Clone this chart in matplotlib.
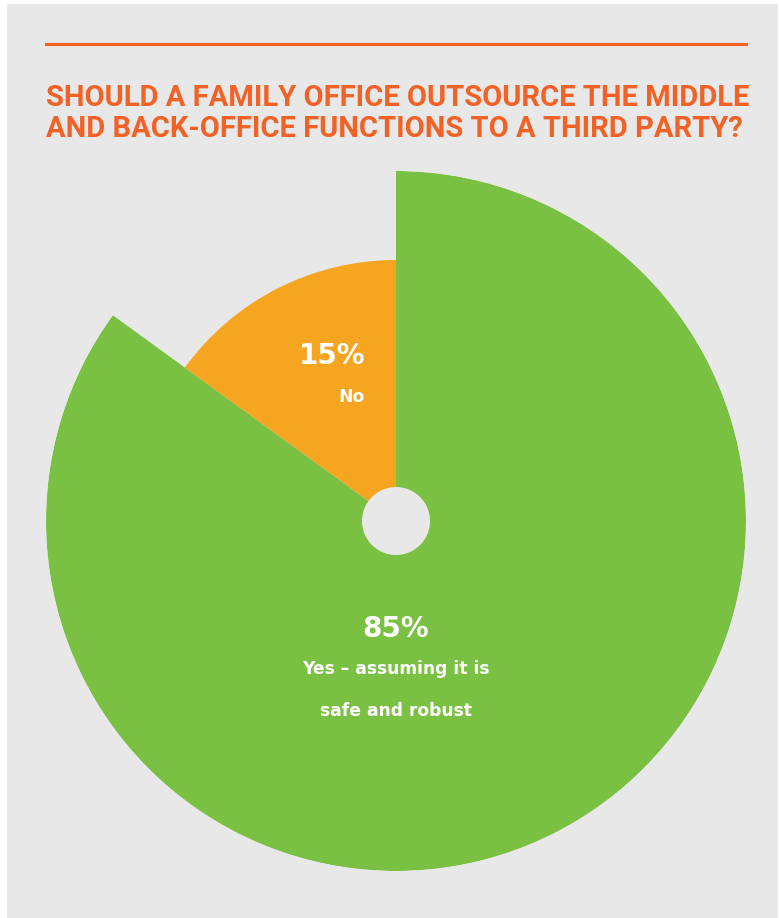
import numpy as np
import matplotlib
matplotlib.use("Agg")
import matplotlib.pyplot as plt

# data
labels = ["Yes \u2013 assuming it is\nsafe and robust", "No"]
shares = [85, 15]
radii = [350, 261]          # relative wedge length as drawn
pct_labels = ["85%", "15%"]

title_lines = ["SHOULD A FAMILY OFFICE OUTSOURCE THE MIDDLE",
               "AND BACK-OFFICE FUNCTIONS TO A THIRD PARTY?"]

bg = "#e8e8e8"
accent = "#f26125"
colors = ["#7ac143", "#f6a520"]

W, H = 779, 918
fig = plt.figure(figsize=(W / 100, H / 100), dpi=100)
fig.patch.set_facecolor("white")

# gray panel
back = fig.add_axes([7 / W, 0, 771 / W, 914 / H])
back.set_facecolor(bg)
back.set_xticks([])
back.set_yticks([])
for s in back.spines.values():
    s.set_visible(False)

# orange rule
fig.add_artist(plt.Line2D([46 / W, 746 / W], [1 - 44 / H, 1 - 44 / H],
                          color=accent, linewidth=2.2))

# title, sized so the first line spans the rule width
title_font = ["Roboto", "DejaVu Sans"]
t1 = fig.text(46 / W, 1 - 106 / H, title_lines[0], ha="left", va="baseline",
              fontsize=20, fontweight="bold", color=accent, family=title_font)
renderer = fig.canvas.get_renderer()
w1 = t1.get_window_extent(renderer).width
fs = 20 * 700 / w1
t1.set_fontsize(fs)
fig.text(46 / W, 1 - 137 / H, title_lines[1], ha="left", va="baseline",
         fontsize=fs, fontweight="bold", color=accent, family=title_font)

# rose chart
cx, cy, R = 396, 521, 350
ax = fig.add_axes([(cx - R) / W, (H - cy - R) / H, 2 * R / W, 2 * R / H],
                  projection="polar")
ax.set_theta_zero_location("N")
ax.set_theta_direction(-1)
ax.set_facecolor("none")
ax.set_ylim(0, R)
ax.axis("off")

hole = 34
start = 0.0
for sh, r, c in zip(shares, radii, colors):
    w = sh / 100 * 2 * np.pi
    ax.bar(start, r - hole, width=w, bottom=hole, align="edge",
           color=c, edgecolor="none", linewidth=0)
    start += w

lab_font = ["DejaVu Sans"]

# 85% label
fig.text(cx / W, 1 - 637 / H, pct_labels[0], ha="center", va="baseline",
         fontsize=20, fontweight="bold", color="white", family=lab_font)
fig.text(cx / W, 1 - 674 / H, labels[0].split("\n")[0], ha="center", va="baseline",
         fontsize=12.3, fontweight="bold", color="white", family=lab_font)
fig.text(cx / W, 1 - 716 / H, labels[0].split("\n")[1], ha="center", va="baseline",
         fontsize=12.3, fontweight="bold", color="white", family=lab_font)

# 15% label
fig.text(365 / W, 1 - 364 / H, pct_labels[1], ha="right", va="baseline",
         fontsize=20, fontweight="bold", color="white", family=lab_font)
fig.text(365 / W, 1 - 402 / H, labels[1], ha="right", va="baseline",
         fontsize=12.3, fontweight="bold", color="white", family=lab_font)

fig.savefig("out.png", dpi=100, facecolor=fig.get_facecolor())
